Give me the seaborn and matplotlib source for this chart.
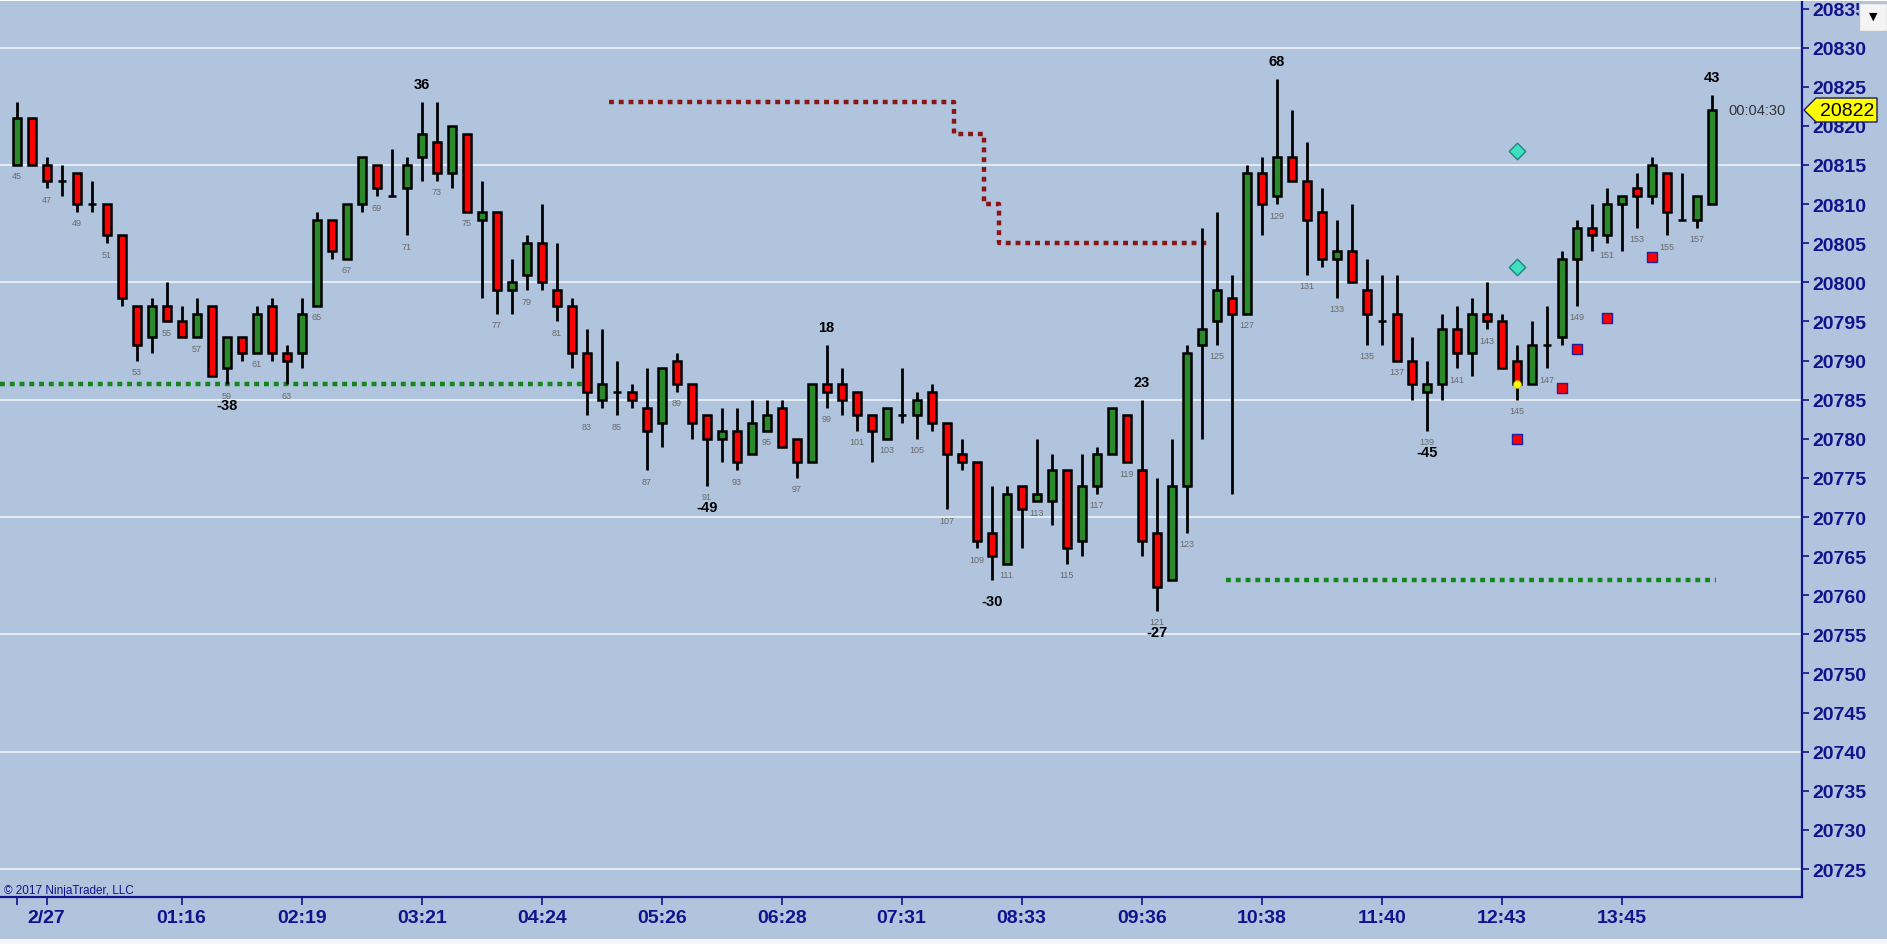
import numpy as np
import pandas as pd
import matplotlib
matplotlib.use("Agg")
import matplotlib.pyplot as plt
import seaborn as sns
from matplotlib.patches import Rectangle, Polygon

# ---- bar data (bar number, OHLC) ----
bars = list(range(45, 159))
opens = [20815, 20821, 20815, 20813, 20814, 20810, 20810, 20806, 20797, 20793,
         20797, 20795, 20793, 20797, 20789, 20793, 20791, 20797, 20791, 20791,
         20797, 20808, 20803, 20810, 20815, 20811, 20812, 20816, 20818, 20814,
         20819, 20808, 20809, 20799, 20801, 20805, 20799, 20797, 20791, 20785,
         20786, 20786, 20784, 20782, 20790, 20787, 20783, 20780, 20781, 20778,
         20781, 20784, 20780, 20777, 20787, 20787, 20786, 20783, 20780, 20783,
         20783, 20786, 20782, 20778, 20777, 20768, 20764, 20774, 20772, 20772,
         20776, 20767, 20774, 20778, 20783, 20776, 20768, 20762, 20774, 20792,
         20795, 20798, 20796, 20814, 20811, 20816, 20813, 20809, 20803, 20804,
         20799, 20795, 20796, 20790, 20786, 20787, 20794, 20791, 20796, 20795,
         20790, 20787, 20792, 20793, 20803, 20807, 20806, 20810, 20812, 20811,
         20814, 20808, 20808, 20810]
highs = [20823, 20821, 20816, 20815, 20814, 20813, 20810, 20806, 20797, 20798,
         20800, 20797, 20798, 20797, 20793, 20793, 20797, 20798, 20792, 20798,
         20809, 20808, 20810, 20816, 20815, 20817, 20816, 20823, 20823, 20820,
         20819, 20813, 20809, 20803, 20806, 20810, 20805, 20798, 20794, 20794,
         20790, 20787, 20789, 20789, 20791, 20787, 20783, 20784, 20784, 20785,
         20785, 20785, 20780, 20787, 20792, 20789, 20786, 20783, 20784, 20789,
         20786, 20787, 20782, 20780, 20777, 20774, 20774, 20774, 20780, 20778,
         20776, 20778, 20779, 20784, 20783, 20785, 20775, 20780, 20792, 20807,
         20809, 20801, 20815, 20816, 20826, 20822, 20818, 20812, 20808, 20810,
         20803, 20801, 20801, 20793, 20790, 20796, 20797, 20798, 20800, 20796,
         20792, 20795, 20797, 20804, 20808, 20810, 20812, 20811, 20814, 20816,
         20814, 20814, 20811, 20824]
lows = [20815, 20815, 20812, 20811, 20809, 20809, 20805, 20797, 20790, 20791,
        20795, 20793, 20793, 20788, 20787, 20790, 20791, 20790, 20787, 20789,
        20797, 20803, 20803, 20809, 20811, 20811, 20806, 20813, 20813, 20812,
        20809, 20798, 20796, 20796, 20799, 20799, 20795, 20789, 20783, 20784,
        20783, 20784, 20776, 20779, 20786, 20780, 20774, 20777, 20776, 20778,
        20781, 20779, 20775, 20777, 20784, 20783, 20781, 20777, 20780, 20782,
        20780, 20781, 20771, 20776, 20766, 20762, 20764, 20766, 20772, 20769,
        20764, 20765, 20773, 20778, 20777, 20765, 20758, 20762, 20768, 20780,
        20792, 20773, 20796, 20806, 20810, 20813, 20801, 20802, 20798, 20800,
        20792, 20792, 20790, 20785, 20781, 20785, 20789, 20788, 20794, 20789,
        20785, 20787, 20789, 20792, 20797, 20804, 20805, 20804, 20807, 20810,
        20806, 20808, 20807, 20810]
closes = [20821, 20815, 20813, 20813, 20810, 20810, 20806, 20798, 20792, 20797,
          20795, 20793, 20796, 20788, 20793, 20791, 20796, 20791, 20790, 20796,
          20808, 20804, 20810, 20816, 20812, 20811, 20815, 20819, 20814, 20820,
          20809, 20809, 20799, 20800, 20805, 20800, 20797, 20791, 20786, 20787,
          20786, 20785, 20781, 20789, 20787, 20782, 20780, 20781, 20777, 20782,
          20783, 20779, 20777, 20787, 20786, 20785, 20783, 20781, 20784, 20783,
          20785, 20782, 20778, 20777, 20767, 20765, 20773, 20771, 20773, 20776,
          20766, 20774, 20778, 20784, 20777, 20767, 20761, 20774, 20791, 20794,
          20799, 20796, 20814, 20810, 20816, 20813, 20808, 20803, 20804, 20800,
          20796, 20795, 20790, 20787, 20787, 20794, 20791, 20796, 20795, 20789,
          20787, 20792, 20792, 20803, 20807, 20806, 20810, 20811, 20811, 20815,
          20809, 20808, 20811, 20822]

# ---- x axis labels ----
tick_bars = [45, 47, 56, 64, 72, 80, 88, 96, 104, 112, 120, 128, 136, 144, 152]
tick_labels = ["", "2/27", "01:16", "02:19", "03:21", "04:24", "05:26", "06:28",
               "07:31", "08:33", "09:36", "10:38", "11:40", "12:43", "13:45"]
price_ticks = list(range(20725, 20840, 5))
grid_levels = [20725, 20740, 20755, 20770, 20785, 20800, 20815, 20830]

# ---- swing labels ----
swing_bars = [59, 72, 91, 99, 110, 120, 121, 129, 139, 158]
swing_text = ["-38", "36", "-49", "18", "-30", "23", "-27", "68", "-45", "43"]
swing_high = [False, True, False, True, False, True, False, True, False, True]

# ---- signal markers ----
square_bars = [145, 148, 149, 151, 154]
square_prices = [20780, 20786.5, 20791.5, 20795.5, 20803.25]
diamond_bars = [145, 145]
diamond_prices = [20816.75, 20802]
dot_bars = [145]
dot_prices = [20787]

# ---- level lines ----
green1_bars = [43.9, 82.9]
green1_level = [20787, 20787]
green2_bars = [125.6, 158.3]
green2_level = [20762, 20762]
stop_bars = [84.5, 107.5, 109.5, 110.5, 124.4]
stop_levels = [20823, 20819, 20810, 20805, 20805]

last_price = 20822
timer_text = "00:04:30"

# ---- style ----
BG = "#b0c4de"
NAVY = "#12128c"
GREEN = "#2a8a2a"
RED = "#ff0000"
W, H = 1887, 945

sns.set_theme(style="white")
plt.rcParams["font.family"] = ["Liberation Sans", "DejaVu Sans"]


def px(x, y):
    return (x / W, 1 - y / H)


fig = plt.figure(figsize=(W / 100, H / 100), dpi=100, facecolor=BG)
ax = fig.add_axes([0, 1 - 898 / H, 1801.7 / W, (898 - 2) / H])
ax.set_facecolor(BG)

# price at pixel y: 20815 at y=166, 7.823 px per point
ax.set_ylim(20815 - (898 - 166) / 7.823, 20815 + (166 - 2) / 7.823)
ax.set_xlim(43.89, 164.0)

for lv in grid_levels:
    ax.axhline(lv, color="white", lw=1.1, alpha=0.85, zorder=1)

df = pd.DataFrame({"bar": bars, "open": opens, "high": highs,
                   "low": lows, "close": closes})
df["bottom"] = df[["open", "close"]].min(axis=1)
df["height"] = (df["close"] - df["open"]).abs()
df["color"] = np.where(df["close"] > df["open"], GREEN,
                       np.where(df["close"] < df["open"], RED, "black"))

ax.vlines(df["bar"], df["low"], df["high"], color="black", lw=2.0, zorder=3)
ax.bar(df["bar"], df["height"], bottom=df["bottom"], width=0.55,
       color=df["color"], edgecolor="black", linewidth=1.8, zorder=4)

# level lines
dot_style = dict(lw=3.2, linestyle=(0, (1.1, 1.1)), zorder=2)
ax.plot(green1_bars, green1_level, color="#12861a", **dot_style)
ax.plot(green2_bars, green2_level, color="#12861a", **dot_style)
ax.step(stop_bars, stop_levels, where="post", color="#8b1414", **dot_style)

# bar number labels (odd bars)
for b, lo in zip(bars, lows):
    if b % 2 == 1:
        ax.annotate(str(b), (b, lo), xytext=(0, -11), textcoords="offset pixels",
                    ha="center", va="center", fontsize=6.5, color="#6a6a6a",
                    zorder=5)

# swing labels
for b, t, hi in zip(swing_bars, swing_text, swing_high):
    y = highs[bars.index(b)] if hi else lows[bars.index(b)]
    ax.annotate(t, (b, y), xytext=(0, 18 if hi else -21),
                textcoords="offset pixels", ha="center", va="center",
                fontsize=10.5, fontweight="bold", color="black", zorder=5)

# markers
sig = pd.DataFrame({"bar": square_bars, "price": square_prices})
sns.scatterplot(data=sig, x="bar", y="price", marker="s", s=50, color=RED,
                edgecolor="#2020a0", linewidth=1.0, ax=ax, zorder=6)
dia = pd.DataFrame({"bar": diamond_bars, "price": diamond_prices})
sns.scatterplot(data=dia, x="bar", y="price", marker="D", s=70, color="#3fe0c0",
                edgecolor="#138a7a", linewidth=1.0, ax=ax, zorder=6)
dot = pd.DataFrame({"bar": dot_bars, "price": dot_prices})
sns.scatterplot(data=dot, x="bar", y="price", marker="o", s=30, color="#ffff00",
                edgecolor="#c8c800", linewidth=0.5, ax=ax, zorder=7)

ax.text(159.1, last_price, timer_text, ha="left", va="center", fontsize=10.5,
        color="#333333", zorder=5)

# axes
ax.yaxis.tick_right()
ax.set_yticks(price_ticks)
ax.set_yticklabels([str(p) for p in price_ticks], fontweight="bold")
ax.set_xticks(tick_bars)
ax.set_xticklabels(tick_labels, fontweight="bold")
ax.tick_params(axis="y", direction="out", length=5, width=1.2, color=NAVY,
               labelcolor=NAVY, labelsize=14, pad=2.5, right=True, left=False)
ax.tick_params(axis="x", direction="out", length=6, width=1.2, color=NAVY,
               labelcolor=NAVY, labelsize=14, pad=2.5, bottom=True)
ax.set_xlabel("")
ax.set_ylabel("")
for s in ["top", "left"]:
    ax.spines[s].set_visible(False)
for s in ["right", "bottom"]:
    ax.spines[s].set_color(NAVY)
    ax.spines[s].set_linewidth(1.6)

# copyright
fig.text(*px(4, 891), "\u00a9 2017 NinjaTrader, LLC", ha="left", va="center",
         fontsize=8.5, color=NAVY)

# last-price flag on the axis
flag = [px(1804, 111), px(1816, 99), px(1877, 99), px(1877, 123), px(1816, 123)]
fig.patches.append(Polygon(flag, closed=True, transform=fig.transFigure,
                           facecolor="#ffff00", edgecolor="#1a1a6a", lw=1.0,
                           zorder=5))
fig.text(*px(1847, 111), str(last_price), ha="center", va="center",
         fontsize=14, color="black", zorder=6)

# top/bottom strips and dropdown button
fig.patches.append(Rectangle(px(0, 2), 1, 2 / H, transform=fig.transFigure,
                             facecolor="white", edgecolor="none", zorder=5))
fig.patches.append(Rectangle(px(0, 945), 1, 5 / H, transform=fig.transFigure,
                             facecolor="#f4f6f9", edgecolor="none", zorder=5))
fig.patches.append(Rectangle(px(1859, 32), 28 / W, 28 / H,
                             transform=fig.transFigure, facecolor="#f4f4f4",
                             edgecolor="#c0c0c0", lw=1.0, zorder=7))
fig.text(*px(1873, 17), "\u25bc", ha="center", va="center", fontsize=8,
         color="black", zorder=8, family="DejaVu Sans")

fig.savefig("out.png", dpi=100, facecolor=BG)
